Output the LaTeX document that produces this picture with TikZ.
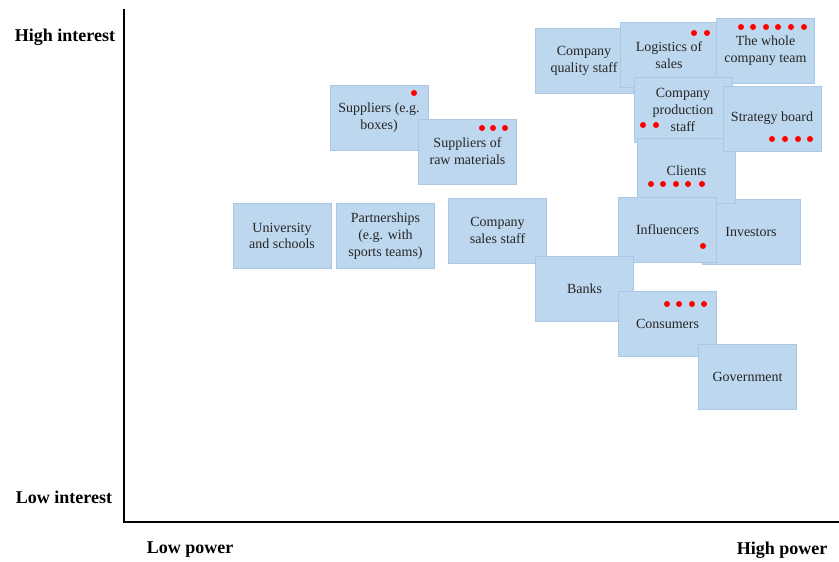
\documentclass[tikz,border=0pt]{standalone}
\usepackage{fontspec}
\setmainfont{Liberation Serif}
\definecolor{boxblue}{HTML}{BDD7EE}
\definecolor{boxedge}{HTML}{A8C8E6}
\definecolor{inktext}{HTML}{262626}
\definecolor{dotred}{HTML}{FF0000}
\begin{document}
\begin{tikzpicture}[x=1bp,y=-1bp,
  stake/.style={rectangle, fill=boxblue, draw=boxedge, line width=0.6bp,
    minimum width=98bp, minimum height=65bp, inner sep=0pt, align=center,
    text=inktext, font=\fontsize{14bp}{16.8bp}\selectfont},
  axislabel/.style={font=\fontsize{18bp}{21bp}\selectfont\bfseries, text=black, inner sep=0pt},
  axisline/.style={line width=2.2bp, black},
  vote/.style={fill=dotred}
]
\useasboundingbox (0,0) rectangle (839,562);

% axes
\coordinate (ytop) at (124,9);
\coordinate (origin) at (124,522);
\coordinate (xend) at (839,522);
\draw[axisline] (ytop) -- (origin) -- (xend);

\node[axislabel] (hi) at (65,37) {High interest};
\node[axislabel] (li) at (64,497) {Low interest};
\node[axislabel] (lp) at (190,550) {Low power};
\node[axislabel] (hp) at (782,550) {High power};

% stakeholders, back to front
\node[stake] (uni) at (282,236) {University\\and schools};
\node[stake] (partners) at (385.5,236) {Partnerships\\(e.g. with\\sports teams)};
\node[stake] (supbox) at (379,117.5) {Suppliers (e.g.\\boxes)};
\fill[vote] (414,93) circle (3bp);
\node[stake] (supraw) at (467.5,151.5) {Suppliers of\\raw materials};
\foreach \x in {482,493,505} \fill[vote] (\x,128) circle (3bp);
\node[stake] (sales) at (497.5,230.5) {Company\\sales staff};
\node[stake] (quality) at (584,61) {Company\\quality staff};
\node[stake] (logistics) at (669,55) {Logistics of\\sales};
\foreach \x in {694,707} \fill[vote] (\x,33) circle (3bp);
\node[stake] (team) at (765.5,51) {The whole\\company team};
\foreach \x in {741,753,766,778,791,804} \fill[vote] (\x,27) circle (3bp);
\node[stake] (production) at (683,110) {Company\\production\\staff};
\foreach \x in {643,656} \fill[vote] (\x,125) circle (3bp);
\node[stake] (investors) at (751,231.5) {Investors};
\node[stake] (clients) at (686.5,171) {Clients};
\foreach \x in {651,663,676,688,702} \fill[vote] (\x,184) circle (3bp);
\node[stake] (strategy) at (772,118.5) {Strategy board};
\foreach \x in {772,785,798,810} \fill[vote] (\x,139) circle (3bp);
\node[stake] (influencers) at (667.5,229.5) {Influencers};
\fill[vote] (703,246) circle (3bp);
\node[stake] (banks) at (584.5,289) {Banks};
\node[stake] (consumers) at (667.5,324) {Consumers};
\foreach \x in {667,679,692,704} \fill[vote] (\x,304) circle (3bp);
\node[stake] (government) at (747.5,376.5) {Government};
\end{tikzpicture}
\end{document}
